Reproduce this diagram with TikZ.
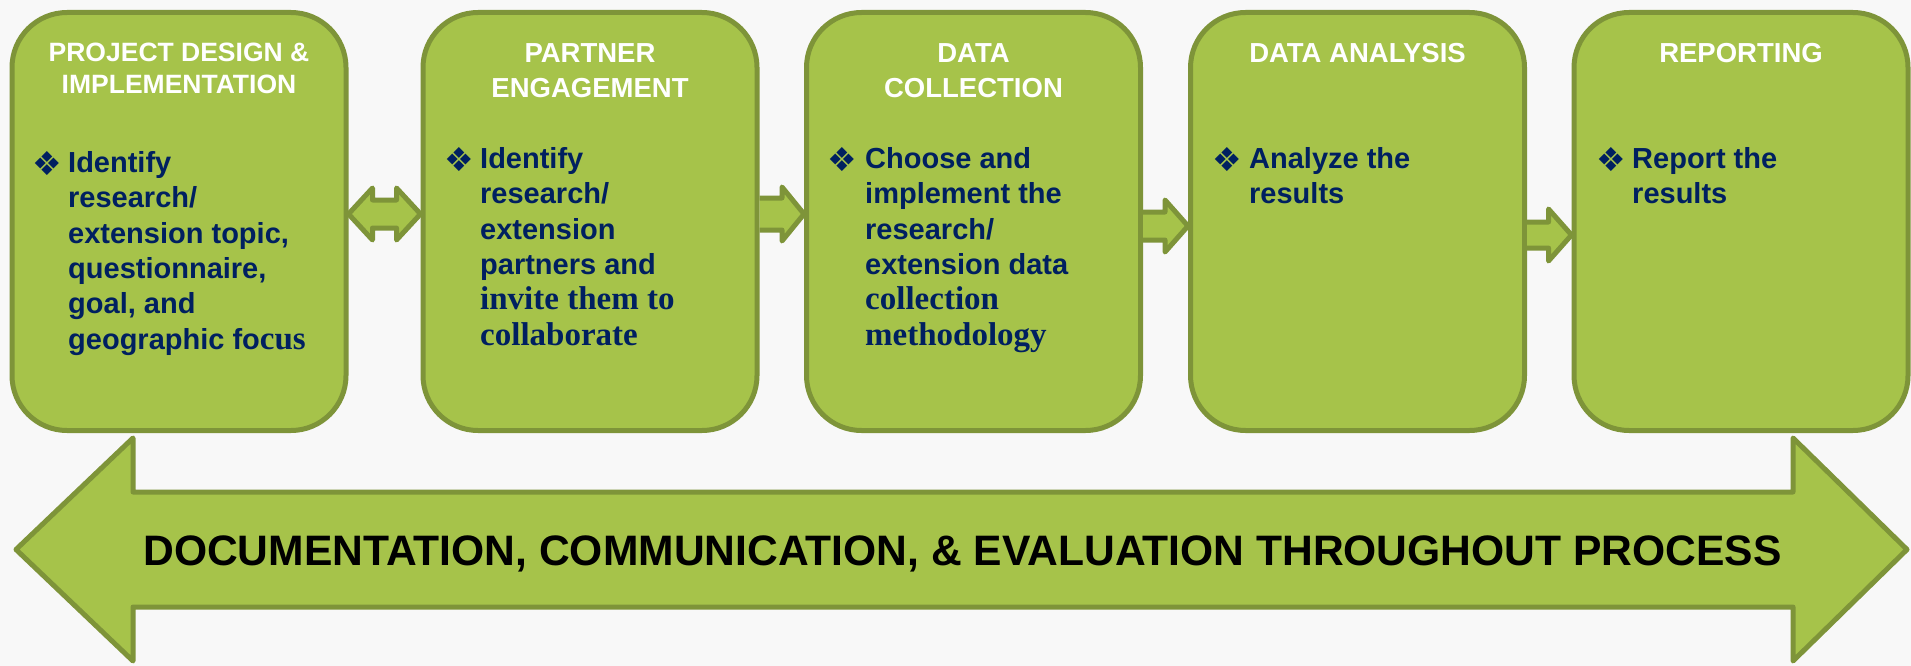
\documentclass[tikz,border=0pt]{standalone}
\usepackage{fontspec}
\setmainfont{Liberation Sans}
\newfontfamily\serifpart{Liberation Serif}
\newfontfamily\bulletfont{DejaVu Sans}
\usetikzlibrary{calc}
\definecolor{leaf}{RGB}{166,195,74}
\definecolor{leafedge}{RGB}{126,148,57}
\definecolor{ink}{RGB}{0,32,96}
\definecolor{paper}{RGB}{248,248,248}
\newcommand{\srf}[1]{{\serifpart\fontsize{33}{35.4}\selectfont #1}}

\begin{document}
\begin{tikzpicture}[x=1pt,y=1pt,
  stage/.style={draw=leafedge,fill=leaf,line width=5pt,rounded corners=55pt,
    minimum width=334pt,minimum height=418pt,inner sep=0pt},
  blk/.style={draw=leafedge,fill=leaf,line width=5pt,line join=round},
  ttl/.style={text=white,font=\bfseries\fontsize{27.5}{35}\selectfont,
    align=center,anchor=north,inner sep=0pt},
  txt/.style={text=ink,font=\bfseries\fontsize{29}{35.4}\selectfont,
    align=left,anchor=north west,inner sep=0pt},
  bul/.style={text=ink,font=\bulletfont\fontsize{33}{33}\selectfont,inner sep=0pt},
]

\path[use as bounding box,fill=paper] (0,0) rectangle (1911,-666);

\node[stage] (b1) at (179,-221.5) {};
\node[stage] (b2) at (590,-221.5) {};
\node[stage] (b3) at (973.5,-221.5) {};
\node[stage] (b4) at (1357.5,-221.5) {};
\node[stage] (b5) at (1741,-221.5) {};

\node[ttl,font=\bfseries\fontsize{26.5}{32}\selectfont] (h1) at (179,-43) {PROJECT DESIGN \&\\IMPLEMENTATION};
\node[ttl] (h2) at (590,-43) {PARTNER\\ENGAGEMENT};
\node[ttl] (h3) at (973.5,-43) {DATA\\COLLECTION};
\node[ttl] (h4) at (1357.5,-43) {DATA ANALYSIS};
\node[ttl] (h5) at (1741,-43) {REPORTING};

\node[bul] (d1) at (47,-163.5) {❖};
\node[bul] (d2) at (459,-160) {❖};
\node[bul] (d3) at (842,-160) {❖};
\node[bul] (d4) at (1227,-160) {❖};
\node[bul] (d5) at (1611,-160) {❖};

\node[txt] (t1) at (68,-151) {Identify\\research/\\extension topic,\\questionnaire,\\goal, and\\geographic fo\srf{cus}};
\node[txt] (t2) at (480,-147) {Identify\\research/\\extension\\partners and\\\srf{invite them to}\\\srf{collaborate}};
\node[txt] (t3) at (865,-147) {Choose and\\implement the\\research/\\extension data\\\srf{collection}\\\srf{methodology}};
\node[txt] (t4) at (1249,-147) {Analyze the\\results};
\node[txt] (t5) at (1632,-147) {Report the\\results};

\draw[blk] (b1.east |- 0,-214) -- ++(24,26) -- ++(0,-12) -- ($(b2.west |- 0,-214)+(-24,14)$) -- ++(0,12)
  -- (b2.west |- 0,-214) -- ++(-24,-26) -- ++(0,12) -- ($(b1.east |- 0,-214)+(24,-14)$) -- ++(0,-12) -- cycle;
\draw[blk] ($(b2.east |- 0,-214)+(0,16)$) -- ($(b3.west |- 0,-214)+(-22,16)$) -- ++(0,11)
  -- (b3.west |- 0,-214) -- ++(-22,-27) -- ++(0,11) -- ($(b2.east |- 0,-214)+(0,-16)$);
\draw[blk] ($(b3.east |- 0,-226)+(0,14)$) -- ($(b4.west |- 0,-226)+(-23,14)$) -- ++(0,12)
  -- (b4.west |- 0,-226) -- ++(-23,-26) -- ++(0,12) -- ($(b3.east |- 0,-226)+(0,-14)$);
\draw[blk] ($(b4.east |- 0,-235)+(0,13)$) -- ($(b5.west |- 0,-235)+(-23,13)$) -- ++(0,13)
  -- (b5.west |- 0,-235) -- ++(-23,-26) -- ++(0,13) -- ($(b4.east |- 0,-235)+(0,-13)$);

\draw[blk] (16,-549.5) -- (133,-438) -- (133,-492) -- (1793,-492) -- (1793,-438) -- (1907,-549.5)
  -- (1793,-661) -- (1793,-607) -- (133,-607) -- (133,-661) -- cycle;
\node[anchor=base,font=\bfseries\fontsize{42.6}{42.6}\selectfont,inner sep=0pt] (doc) at (962.5,-565)
  {DOCUMENTATION, COMMUNICATION, \& EVALUATION THROUGHOUT PROCESS};

\end{tikzpicture}
\end{document}
